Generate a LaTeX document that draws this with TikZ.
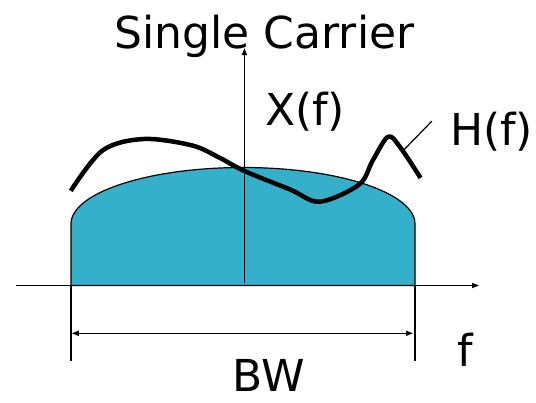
\documentclass[tikz,border=0pt]{standalone}
\usepackage{fontspec}
\setmainfont{DejaVu Sans}
\usetikzlibrary{arrows.meta,calc}
\definecolor{band}{HTML}{35B0CB}
\definecolor{ink}{HTML}{000000}

\begin{document}
\begin{tikzpicture}[x=1bp,y=1bp,line join=round,
  axis/.style={-{Triangle[length=7bp,width=5bp]},line width=1.4bp,ink},
  chan/.style={line width=4.5bp,ink},
  dim/.style={{Triangle[length=7bp,width=5bp]}-{Triangle[length=7bp,width=5bp]},line width=1.4bp,ink},
  lbl/.style={font=\fontsize{44bp}{52bp}\selectfont,text=ink,anchor=base,inner sep=0pt}]
  \useasboundingbox (0,0) rectangle (536,402);

  \coordinate (O) at (244.4,116.5);   % origin of the spectrum
  \coordinate (L) at (71,116.5);      % left band edge
  \coordinate (R) at (415,116.5);     % right band edge

  % ---- signal spectrum X(f) ----
  \fill[band,draw=ink,line width=1.2bp] (L) -- (71,178) arc[start angle=180,end angle=0,x radius=172,y radius=56.5] -- (R) -- cycle;

  % ---- axes ----
  \coordinate (fend) at (479,116.5);
  \coordinate (ytop) at (244.4,354);
  \draw[axis] (16,116.5) -- (fend);
  \draw[axis] ($(O)+(0,2.5)$) -- (ytop);

  % ---- channel H(f) ----
  \draw[chan] plot[smooth,tension=0.55] coordinates {(70.8,211.2) (102.6,251.6) (143.6,263) (191.5,256.7) (218.8,244.7) (244.4,231) (290.6,212.3) (319.7,200.3) (359,217.4) (372.6,241.3) (388,265.2) (400,255) (420.5,224.2)};
  \coordinate (hpt) at (403.4,251.6);

  % ---- bandwidth ----
  \coordinate (Lb) at (71,41.3);
  \coordinate (Rb) at (415,41.3);
  \draw[line width=1.2bp,ink] (L) -- (Lb);
  \draw[line width=1.2bp,ink] (R) -- (Rb);
  \coordinate (dl) at (71.8,68.7);
  \coordinate (dr) at (413,68.7);
  \draw[dim] (dl) -- (dr);

  % ---- labels ----
  \node[lbl] (title) at (264.5,354) {Single Carrier};
  \node[lbl] (xf) at (305,277) {X(f)};
  \node[lbl] (hf) at (491.5,257) {H(f)};
  \node[lbl] (f) at (465.5,36) {f};
  \node[lbl] (bw) at (269,11) {BW};
  \draw[line width=1.2bp,ink] (hpt) -- ($(hf.west)+(-18,10)$);
\end{tikzpicture}
\end{document}
